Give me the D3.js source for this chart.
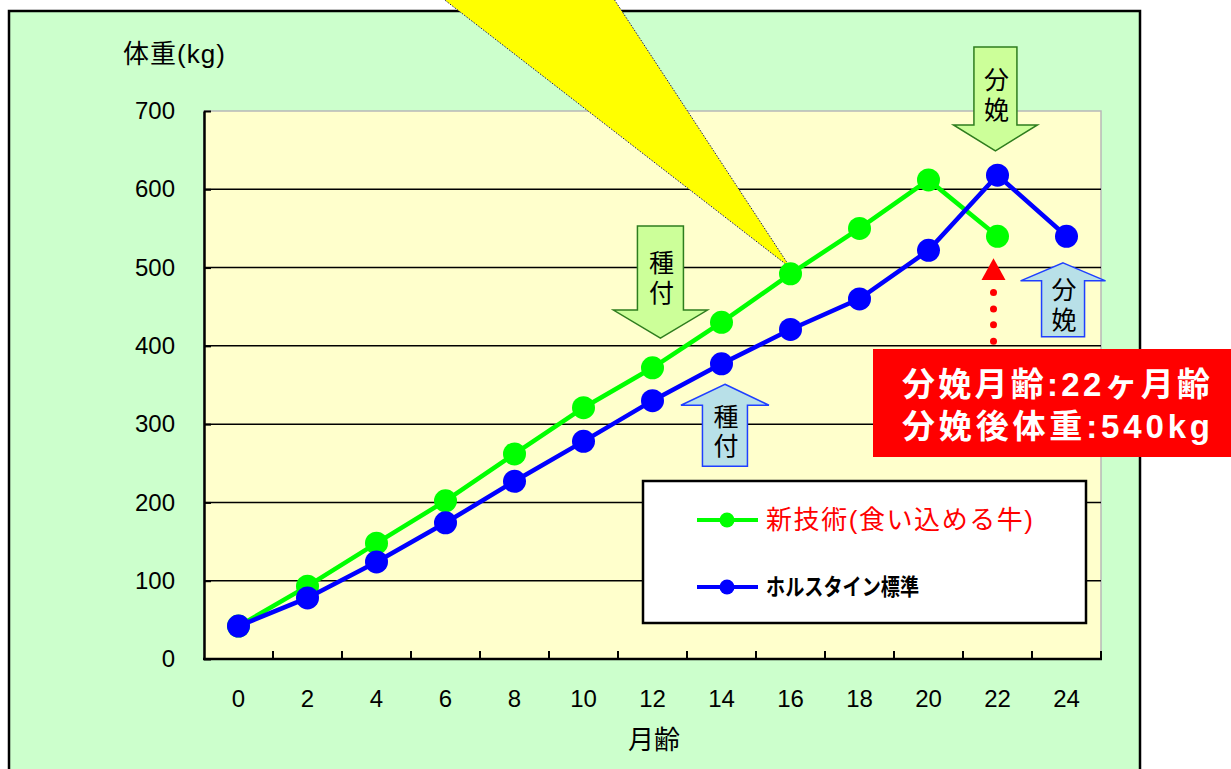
<!DOCTYPE html>
<html>
<head>
<meta charset="utf-8">
<script src="https://cdn.jsdelivr.net/npm/d3@7"></script>
<style>
  html, body { margin: 0; padding: 0; background: #ffffff; }
  svg { display: block; }
</style>
</head>
<body>
<svg id="chart" width="1231" height="769"></svg>
<script>
// ---- data ----
const months = [0, 2, 4, 6, 8, 10, 12, 14, 16, 18, 20, 22, 24];
const newTech = [42, 93, 148, 202, 262, 321, 372, 430, 492, 550, 612, 540, null];
const holstein = [42, 78, 124, 174, 227, 278, 330, 377, 421, 460, 522, 618, 540];
const yTicks = [0, 100, 200, 300, 400, 500, 600, 700];
const seriesNames = ["新技術(食い込める牛)", "ホルスタイン標準"];
const yTitle = "体重(kg)";
const xTitle = "月齢";
const infoLines = ["分娩月齢:22ヶ月齢", "分娩後体重:540kg"];

// annotation arrows: month position, tip value, direction, label offsets from tip
const arrows = [
  { label: ["分", "娩"], m: 21.94, v: 649, dir: "down", kind: "green", len: 104, headH: 26, headW: 42, shaftW: 21.5, lab: [-72, -42] },
  { label: ["種", "付"], m: 12.23, v: 410, dir: "down", kind: "green", len: 112, headH: 28, headW: 47, shaftW: 23, lab: [-76, -46] },
  { label: ["種", "付"], m: 14.1,  v: 351, dir: "up",   kind: "blue",  len: 82,  headH: 21, headW: 44, shaftW: 22.5, lab: [32, 61] },
  { label: ["分", "娩"], m: 23.9,  v: 506, dir: "up",   kind: "blue",  len: 74,  headH: 18, headW: 42.5, shaftW: 21.5, lab: [26, 56] }
];

const svg = d3.select("#chart");
const CJK = "'Liberation Sans', 'Noto Sans CJK JP', sans-serif";
const NUM = "'Liberation Sans', Arial, sans-serif";

// ---- layout ----
const plot = { left: 204, right: 1101, top: 111, bottom: 659 };
const x = d3.scaleBand().domain(months).range([plot.left, plot.right]).padding(0);
const cx = m => plot.left + x.bandwidth() * (m / 2 + 0.5);
const y = d3.scaleLinear().domain([0, 700]).range([plot.bottom, plot.top]);

// outer green panel
svg.append("rect").attr("x", 9).attr("y", 11).attr("width", 1131).attr("height", 800)
  .attr("fill", "#CCFFCC").attr("stroke", "#000").attr("stroke-width", 2.5);

// plot background
svg.append("rect").attr("x", plot.left).attr("y", plot.top)
  .attr("width", plot.right - plot.left).attr("height", plot.bottom - plot.top)
  .attr("fill", "#FFFFCC").attr("stroke", "#B8B8B8").attr("stroke-width", 1.5);

// gridlines
svg.append("g").selectAll("line").data(yTicks.filter(t => t > 0 && t < 700)).join("line")
  .attr("x1", plot.left).attr("x2", plot.right)
  .attr("y1", d => y(d)).attr("y2", d => y(d))
  .attr("stroke", "#000").attr("stroke-width", 1.5);

// y axis
const yAxis = svg.append("g").attr("transform", `translate(${plot.left},0)`)
  .call(d3.axisLeft(y).tickValues(yTicks).tickSize(-7).tickPadding(29).tickSizeOuter(0));
yAxis.select(".domain").attr("stroke", "#000").attr("stroke-width", 2.5);
yAxis.selectAll(".tick line").attr("stroke", "#000").attr("stroke-width", 2);
yAxis.selectAll("text").attr("font-family", NUM)
  .attr("font-size", 24).attr("fill", "#000");

// x axis (labels at category centers, ticks on boundaries)
const xAxis = svg.append("g").attr("transform", `translate(0,${plot.bottom})`)
  .call(d3.axisBottom(x).tickSize(0).tickPadding(31));
xAxis.select(".domain").remove();
xAxis.selectAll("text").attr("font-family", NUM)
  .attr("font-size", 24).attr("fill", "#000");
const boundaries = months.slice(1).map(m => x(m)).concat([plot.right]);
svg.append("g").selectAll("line").data(boundaries).join("line")
  .attr("x1", d => d).attr("x2", d => d)
  .attr("y1", plot.bottom).attr("y2", plot.bottom - 8)
  .attr("stroke", "#000").attr("stroke-width", 2);
svg.append("line").attr("x1", plot.left - 1).attr("x2", plot.right + 1)
  .attr("y1", plot.bottom).attr("y2", plot.bottom)
  .attr("stroke", "#000").attr("stroke-width", 2.5);

// titles
svg.append("text").attr("x", 123).attr("y", 63).attr("font-family", CJK)
  .attr("font-size", 26).attr("fill", "#000")
  .attr("textLength", 102).attr("lengthAdjust", "spacing").text(yTitle);
svg.append("text").attr("x", 654).attr("y", 749).attr("text-anchor", "middle")
  .attr("font-family", CJK).attr("font-size", 26).attr("fill", "#000").text(xTitle);

// yellow callout pointing at month 16 point
const calloutTip = [cx(16), y(newTech[8]) - 6];
svg.append("polygon")
  .attr("points", [[calloutTip[0] - 346 * 1.1, calloutTip[1] - 268 * 1.1], [calloutTip[0] - 176 * 1.1, calloutTip[1] - 268 * 1.1], calloutTip].map(p => p.join(",")).join(" "))
  .attr("fill", "#FFFF00").attr("stroke", "#1a1a66").attr("stroke-width", 1).attr("stroke-dasharray", "1.5,1.5");

// arrows
function arrowPath(a) {
  const tx = cx(a.m), ty = y(a.v);
  const s = a.dir === "down" ? -1 : 1; // direction from tip toward tail
  const hb = ty + s * a.headH, tail = ty + s * a.len;
  return [[tx, ty], [tx + a.headW, hb], [tx + a.shaftW, hb], [tx + a.shaftW, tail],
          [tx - a.shaftW, tail], [tx - a.shaftW, hb], [tx - a.headW, hb]];
}
const arrowG = svg.append("g");
arrows.forEach(a => {
  const pts = arrowPath(a);
  arrowG.append("polygon").attr("points", pts.map(p => p.join(",")).join(" "))
    .attr("fill", a.kind === "green" ? "#CCFF99" : "#B8E0E8")
    .attr("stroke", a.kind === "green" ? "#2E7D1E" : "#1F3FFF").attr("stroke-width", 1.5);
  const tx = cx(a.m), ty = y(a.v);
  const t = arrowG.append("text").attr("text-anchor", "middle").attr("font-family", CJK)
    .attr("font-size", 25).attr("fill", "#000");
  a.label.forEach((ch, i) => {
    t.append("tspan").attr("x", tx + 1).attr("y", ty + a.lab[i] + 10).text(ch);
  });
});

// red marker under green 22-month point
const rx = cx(22) - 4;
svg.append("polygon")
  .attr("points", [[rx, y(512)], [rx + 12, y(484)], [rx - 12, y(484)]].map(p => p.join(",")).join(" "))
  .attr("fill", "#FF0000");
svg.append("g").selectAll("circle").data([468, 447, 427, 406]).join("circle")
  .attr("cx", rx).attr("cy", d => y(d)).attr("r", 3.5).attr("fill", "#FF0000");

// series
const series = [
  { name: seriesNames[0], values: newTech, color: "#00FF00" },
  { name: seriesNames[1], values: holstein, color: "#0000FF" }
];
const line = d3.line().defined(d => d.v != null).x(d => cx(d.m)).y(d => y(d.v));
series.forEach(s => {
  const pts = months.map((m, i) => ({ m, v: s.values[i] }));
  svg.append("path").datum(pts).attr("d", line).attr("fill", "none")
    .attr("stroke", s.color).attr("stroke-width", 4.5);
  svg.append("g").selectAll("circle").data(pts.filter(d => d.v != null)).join("circle")
    .attr("cx", d => cx(d.m)).attr("cy", d => y(d.v)).attr("r", 11.5).attr("fill", s.color);
});

// legend
const lg = svg.append("g");
lg.append("rect").attr("x", 643).attr("y", 481).attr("width", 443).attr("height", 142)
  .attr("fill", "#fff").attr("stroke", "#000").attr("stroke-width", 2.5);
series.forEach((s, i) => {
  const ly = 520 + i * 67;
  lg.append("line").attr("x1", 697).attr("x2", 758).attr("y1", ly).attr("y2", ly)
    .attr("stroke", s.color).attr("stroke-width", 4);
  lg.append("circle").attr("cx", 727).attr("cy", ly).attr("r", 7.5).attr("fill", s.color);
  lg.append("text").attr("x", 766).attr("y", ly + (i === 0 ? 9 : 8))
    .attr("font-family", CJK)
    .attr("font-size", i === 0 ? 26 : 23).attr("font-weight", i === 0 ? 400 : 700)
    .attr("textLength", i === 0 ? 267 : 153)
    .attr("lengthAdjust", i === 0 ? "spacing" : "spacingAndGlyphs")
    .attr("fill", i === 0 ? "#FF0000" : "#000").text(s.name);
});

// red info box
svg.append("rect").attr("x", 873).attr("y", 349).attr("width", 360).attr("height", 108)
  .attr("fill", "#FF0000");
infoLines.forEach((t, i) => {
  svg.append("text").attr("x", 902).attr("y", 396 + i * 42)
    .attr("font-family", CJK).attr("font-size", 33).attr("font-weight", 700)
    .attr("textLength", 308).attr("lengthAdjust", "spacing")
    .attr("fill", "#fff").text(t);
});
</script>
</body>
</html>
